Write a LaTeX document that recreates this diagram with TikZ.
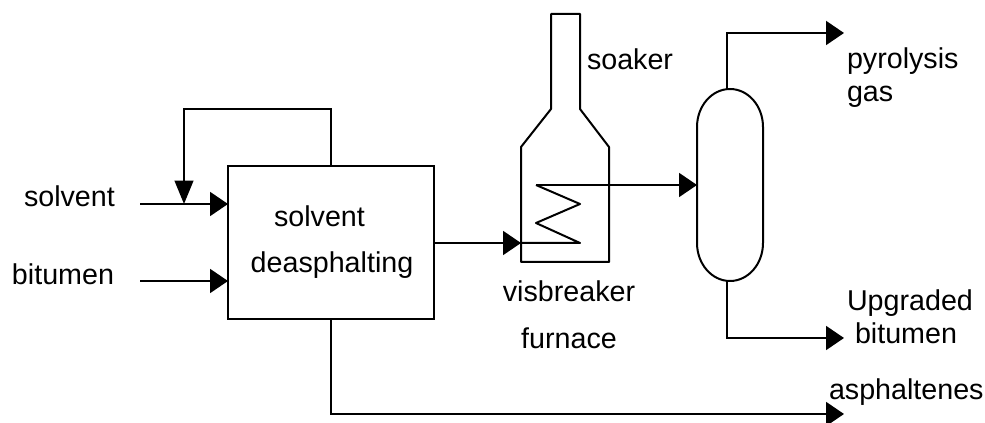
\documentclass[tikz,border=0pt]{standalone}
\usepackage{fontspec}
\setmainfont{Liberation Sans}
\usepackage{tikz}
\usetikzlibrary{arrows.meta, positioning}

\begin{document}
\begin{tikzpicture}[
  x=0.75pt, y=-0.75pt,
  line width=1.5pt,
  label/.style={font=\fontsize{21.5}{24}\selectfont, inner sep=0pt, text height=15.5pt, text depth=4.5pt},
  arrow/.style={-{Triangle[length=13.5pt, width=18pt]}, line width=1.5pt},
  arrowdown/.style={-{Triangle[length=17.5pt, width=14pt]}, line width=1.5pt},
  line/.style={line width=1.5pt},
  unit/.style={draw, line width=1.5pt, minimum width=154.5pt, minimum height=114.75pt, inner sep=0pt, outer sep=0pt},
]
\useasboundingbox (0,0) rectangle (985,423);

% process units
\node[unit] (sda) at (331,242.5) {};
\node[inner sep=0pt, outer sep=0pt, minimum width=49.5pt, minimum height=144pt] (vessel) at (730,185) {};
\draw[line] (vessel.west |- 0,127) arc[start angle=180, end angle=360, x radius=33, y radius=38]
  -- (vessel.east |- 0,243) arc[start angle=0, end angle=180, x radius=33, y radius=38] -- cycle;
\coordinate (furnacein) at (521,243);
\draw[line, line join=round] (551,14) -- (580,14) -- (580,109) -- (609,147) -- (609,262)
  -- (521,262) -- (521,147) -- (551,109) -- cycle;

% coil
\coordinate (coilin) at (580,243);
\coordinate (coilout) at (536,185);
\draw[line, line join=round] (furnacein) -- (coilin) -- (536,223) -- (580,204) -- (coilout);

% streams
\coordinate (solventin) at (140,204);
\coordinate (bitumenin) at (140,281);
\coordinate (gasout) at (844,33);
\coordinate (bitumenout) at (844,338);
\coordinate (asphout) at (844,414);
\coordinate (sdatop) at (331,166);
\coordinate (sdabot) at (331,319);
\coordinate (mix) at (184,204);
\draw[arrow] (solventin) -- (solventin -| sda.west);
\draw[arrow] (bitumenin) -- (bitumenin -| sda.west);
\draw[arrowdown] (sdatop) -- (331,109) -- (184,109) -- (mix);
\draw[arrow] (sda.east |- furnacein) -- (furnacein);
\draw[arrow] (coilout) -- (coilout -| vessel.west);
\draw[arrow] (727,89) -- (727,33) -- (gasout);
\draw[arrow] (727,281) -- (727,338) -- (bitumenout);
\draw[arrow] (sdabot) -- (331,414) -- (asphout);

% labels
\node[label, anchor=west] (lsolvent) at (23,199) {solvent};
\node[label, anchor=west] (lbitumen) at (11,277) {bitumen};
\node[label] (lsda1) at (319.5,219) {solvent};
\node[label] (lsda2) at (332,265) {deasphalting};
\node[label, anchor=west] (lsoaker) at (586,62) {soaker};
\node[label] (lvis) at (569,294.5) {visbreaker};
\node[label] (lfurn) at (569,341) {furnace};
\node[label, anchor=west] (lpyro) at (846,61) {pyrolysis};
\node[label, anchor=west] (lgas) at (846,94) {gas};
\node[label, anchor=west] (lupg) at (846,303) {Upgraded};
\node[label, anchor=west] (lbit) at (854,336) {bitumen};
\node[label, anchor=west] (lasph) at (828,392) {asphaltenes};
\end{tikzpicture}
\end{document}
